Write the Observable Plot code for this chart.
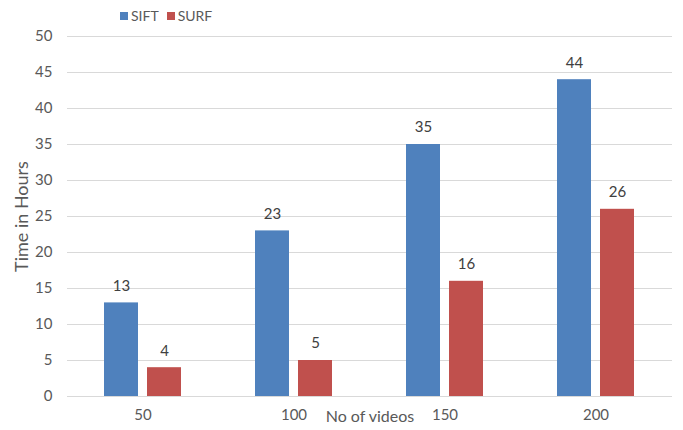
<!DOCTYPE html>
<html>
<head>
<meta charset="utf-8">
<script src="https://cdn.jsdelivr.net/npm/d3@7"></script>
<script src="https://cdn.jsdelivr.net/npm/@observablehq/plot@0.6"></script>
<style>
  body { margin: 0; background: #fff; font-family: Lato, "Open Sans", sans-serif; }
  #legend { height: 26px; position: relative; }
  #legend .row { position: absolute; top: 8px; left: 120px; display: flex; align-items: center; gap: 0; font-size: 14px; color: #595959; line-height: 16px; }
  #legend .sw { display: inline-block; width: 8px; height: 8px; margin-right: 3px; }
  #legend .item { display: flex; align-items: center; margin-right: 8px; }
</style>
</head>
<body>
<div id="legend"><div class="row"></div></div>
<div id="chart"></div>
<script>
const categories = ["50", "100", "150", "200"];
const seriesNames = ["SIFT", "SURF"];
const siftValues = [13, 23, 35, 44];
const surfValues = [4, 5, 16, 26];
const seriesColors = ["#4F81BD", "#C0504D"];
const yTicks = [0, 5, 10, 15, 20, 25, 30, 35, 40, 45, 50];
const xTitle = "No of videos";
const yTitle = "Time in Hours";

const rows = categories.flatMap((c, i) => [
  {cat: c, series: seriesNames[0], value: siftValues[i]},
  {cat: c, series: seriesNames[1], value: surfValues[i]}
]);
const siftRows = rows.filter(d => d.series === seriesNames[0]);
const surfRows = rows.filter(d => d.series === seriesNames[1]);

// legend
const row = document.querySelector("#legend .row");
seriesNames.forEach((s, i) => {
  const item = document.createElement("span");
  item.className = "item";
  const sw = document.createElement("span");
  sw.className = "sw";
  sw.style.background = seriesColors[i];
  item.appendChild(sw);
  item.appendChild(document.createTextNode(s));
  row.appendChild(item);
});

const inset = 43;
const chart = Plot.plot({
  width: 683,
  height: 404,
  marginTop: 10,
  marginBottom: 34,
  marginLeft: 67,
  marginRight: 11,
  style: {fontFamily: "Lato, 'Open Sans', sans-serif", fontSize: "15px", color: "#595959", background: "white", overflow: "visible"},
  x: {domain: categories, paddingInner: 0.49, paddingOuter: 0.245},
  y: {domain: [0, 50]},
  color: {domain: seriesNames, range: seriesColors},
  marks: [
    Plot.gridY(yTicks, {stroke: "#d9d9d9", strokeOpacity: 1}),
    Plot.axisY(yTicks, {tickSize: 0, tickPadding: 15, fill: "#595959", label: null}),
    Plot.axisY({ticks: [], tickSize: 0, label: yTitle, labelAnchor: "center", labelArrow: "none", labelOffset: 52, fontSize: 18, fill: "#595959"}),
    Plot.axisX({tickSize: 0, tickPadding: 13, fill: "#595959", label: null}),
    Plot.axisX({ticks: [], tickSize: 0, label: xTitle, labelAnchor: "center", labelArrow: "none", labelOffset: 25, fontSize: 16, fill: "#595959"}),
    Plot.barY(siftRows, {x: "cat", y: "value", fill: "series", insetRight: inset}),
    Plot.barY(surfRows, {x: "cat", y: "value", fill: "series", insetLeft: inset}),
    Plot.text(siftRows, {x: "cat", y: "value", text: d => String(d.value), dx: -21.5, dy: -17, fill: "#404040", fontSize: 15}),
    Plot.text(surfRows, {x: "cat", y: "value", text: d => String(d.value), dx: 21.5, dy: -17, fill: "#404040", fontSize: 15})
  ]
});
document.getElementById("chart").appendChild(chart);
</script>
</body>
</html>
